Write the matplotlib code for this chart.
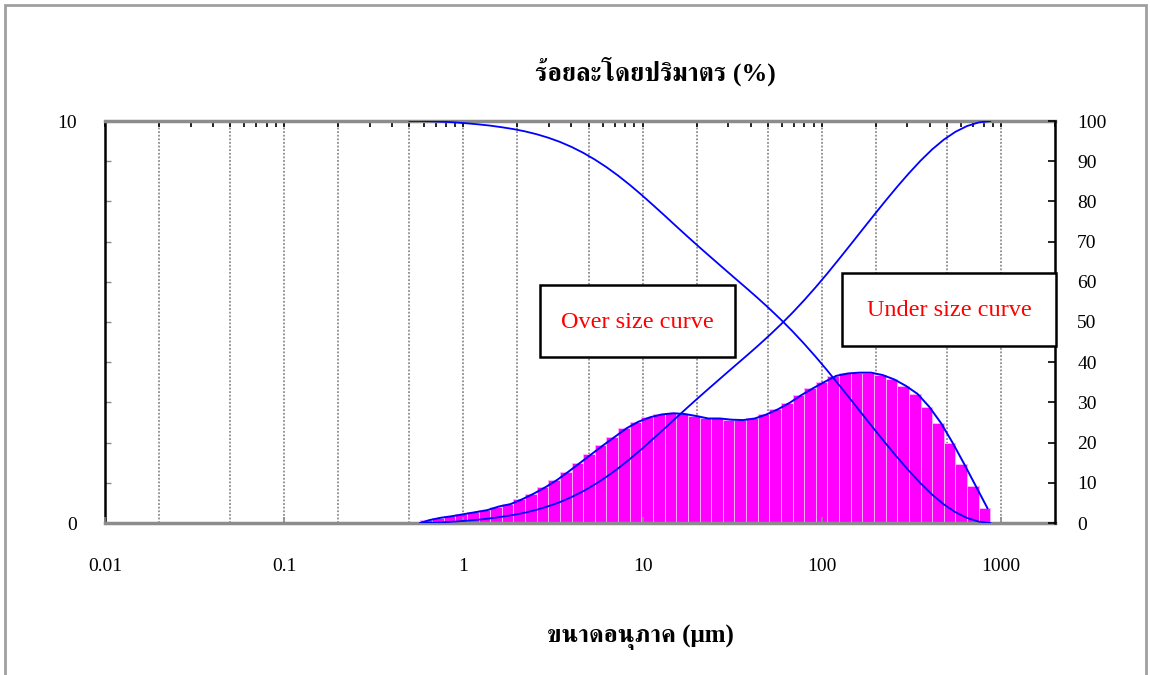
import matplotlib
matplotlib.use("Agg")
import matplotlib.pyplot as plt
from matplotlib import font_manager
from matplotlib.ft2font import FT2Font
from matplotlib.ticker import MultipleLocator, LogLocator, FixedLocator, NullFormatter
from matplotlib.patches import Rectangle

# channel edges (um)
edges = [0.575, 0.668, 0.775, 0.900, 1.045, 1.214, 1.410, 1.637, 1.901, 2.207,
         2.563, 2.976, 3.456, 4.013, 4.660, 5.411, 6.283, 7.296, 8.472, 9.838,
         11.42, 13.27, 15.40, 17.89, 20.77, 24.12, 28.01, 32.52, 37.76, 43.85,
         50.92, 59.13, 68.66, 79.73, 92.58, 107.5, 124.8, 145.0, 168.3, 195.5,
         227.0, 263.6, 306.0, 355.4, 412.7, 479.2, 556.4, 646.1, 750.3, 871.3]

# volume % per channel (left axis)
q = [0.07, 0.13, 0.17, 0.22, 0.27, 0.32, 0.41, 0.47, 0.59, 0.73,
     0.89, 1.07, 1.28, 1.50, 1.72, 1.94, 2.15, 2.36, 2.52, 2.63,
     2.70, 2.73, 2.71, 2.66, 2.60, 2.60, 2.57, 2.56, 2.60, 2.70,
     2.83, 2.99, 3.18, 3.35, 3.51, 3.66, 3.72, 3.74, 3.74, 3.68,
     3.57, 3.41, 3.21, 2.89, 2.49, 2.00, 1.47, 0.92, 0.37]

# cumulative curves (right axis), at channel edges
under = [0.0, 0.07, 0.19, 0.36, 0.58, 0.84, 1.15, 1.55, 2.01, 2.58,
         3.29, 4.16, 5.20, 6.45, 7.91, 9.59, 11.48, 13.58, 15.88, 18.33,
         20.90, 23.53, 26.19, 28.83, 31.42, 33.96, 36.49, 39.00, 41.49, 44.03,
         46.66, 49.42, 52.33, 55.43, 58.70, 62.12, 65.68, 69.31, 72.96, 76.60,
         80.19, 83.67, 86.99, 90.12, 92.94, 95.36, 97.31, 98.75, 99.64, 100.0]
over = [100.0, 99.93, 99.81, 99.64, 99.42, 99.16, 98.85, 98.45, 97.99, 97.42,
        96.71, 95.84, 94.80, 93.55, 92.09, 90.41, 88.52, 86.42, 84.12, 81.67,
        79.10, 76.47, 73.81, 71.17, 68.58, 66.04, 63.51, 61.00, 58.51, 55.97,
        53.34, 50.58, 47.67, 44.57, 41.30, 37.88, 34.32, 30.69, 27.04, 23.40,
        19.81, 16.33, 13.01, 9.88, 7.06, 4.64, 2.69, 1.25, 0.36, 0.0]

grid_x = [0.02, 0.05, 0.1, 0.2, 0.5, 1, 2, 5, 10, 20, 50, 100, 200, 500, 1000]
xticks = [0.01, 0.1, 1, 10, 100, 1000]
xticklabels = ["0.01", "0.1", "1", "10", "100", "1000"]

# Thai glyphs: prefer FreeSerif, else anything that has them
names = {f.name for f in font_manager.fontManager.ttflist}
if "FreeSerif" in names:
    thai_font = "FreeSerif"
else:
    thai_font = "DejaVu Sans"
    for f in font_manager.fontManager.ttflist:
        try:
            if 0x0E23 in FT2Font(f.fname).get_charmap():
                thai_font = f.name
                break
        except Exception:
            pass
plt.rcParams["font.family"] = ["Liberation Serif", thai_font, "DejaVu Sans"]

fig = plt.figure(figsize=(11.5, 6.75), dpi=100)
ax = fig.add_axes([105 / 1150, 1 - 523 / 675, 950 / 1150, 402 / 675])
ax2 = ax.twinx()

ax.set_xscale("log")
ax.set_xlim(0.01, 2000)
ax.set_ylim(0, 10)
ax2.set_ylim(0, 100)

for gx in grid_x:
    ax.axvline(gx, color="#8c8c8c", lw=1.3, ls=(0, (1, 1)), zorder=0)

widths = [edges[i + 1] - edges[i] for i in range(len(q))]
ax.bar(edges[:-1], q, width=widths, align="edge", color="#ff00ff",
       edgecolor="#ffb0ff", linewidth=0.7, zorder=2)

# frequency curve, a bit right of the channel centres
cx = [edges[0]] + [(edges[i] * edges[i + 1] ** 3) ** 0.25 for i in range(len(q))]
ax.plot(cx, [0.0] + q, color="#0000ff", lw=1.4, zorder=3)

ax2.plot(edges, under, color="#0000ff", lw=1.3, zorder=3)
ax2.plot([0.5] + edges, [100.0] + over, color="#0000ff", lw=1.3, zorder=3)

# spines
ax.spines["top"].set_color("#8c8c8c")
ax.spines["top"].set_linewidth(2.5)
ax.spines["bottom"].set_color("#8c8c8c")
ax.spines["bottom"].set_linewidth(2.5)
ax.spines["left"].set_color("black")
ax.spines["left"].set_linewidth(1.8)
ax2.spines["right"].set_color("black")
ax2.spines["right"].set_linewidth(1.8)
for s in ["top", "bottom", "left"]:
    ax2.spines[s].set_visible(False)

# x ticks: minor black on top, decades gray on bottom
ax.xaxis.set_major_locator(FixedLocator(xticks))
ax.xaxis.set_minor_locator(LogLocator(base=10, subs=range(2, 10), numticks=20))
ax.xaxis.set_minor_formatter(NullFormatter())
ax.set_xticklabels(xticklabels)
ax.tick_params(axis="x", which="both", bottom=False, top=True, direction="in",
               color="black", length=4, width=1.2, labelbottom=True, labeltop=False,
               pad=25, labelsize=14)
ax2.xaxis.set_visible(True)
ax2.tick_params(axis="x", which="major", bottom=True, top=False, direction="in",
                color="#8c8c8c", length=4, width=1.2, labelbottom=False)
ax2.tick_params(axis="x", which="minor", bottom=False, top=False)

ax.set_yticks([0, 10])
ax.set_yticklabels(["0", "10"])
ax.yaxis.set_minor_locator(MultipleLocator(1))
ax.tick_params(axis="y", which="major", left=False, direction="in", pad=20, labelsize=14)
ax.tick_params(axis="y", which="minor", direction="in", color="#8c8c8c", length=4, width=1)

ax2.set_yticks(range(0, 101, 10))
ax2.tick_params(axis="y", which="major", direction="in", color="black", length=5,
                width=1.2, pad=16, labelsize=14)

# labelled boxes
fig.patches.append(Rectangle((540 / 1150, 1 - 357 / 675), 195 / 1150, 72 / 675,
                             transform=fig.transFigure, facecolor="white",
                             edgecolor="black", lw=1.8, zorder=5))
fig.patches.append(Rectangle((842 / 1150, 1 - 346 / 675), 214 / 1150, 73 / 675,
                             transform=fig.transFigure, facecolor="white",
                             edgecolor="black", lw=1.8, zorder=5))
fig.text(637 / 1150, 1 - 322 / 675, "Over size curve", color="red", fontsize=17.5,
         ha="center", va="center", zorder=6)
fig.text(949 / 1150, 1 - 311 / 675, "Under size curve", color="red", fontsize=17.5,
         ha="center", va="center", zorder=6)

fig.text(655 / 1150, 1 - 71 / 675, "ร้อยละโดยปริมาตร (%)", fontsize=18.5,
         fontweight="bold", ha="center", va="center")
fig.text(640 / 1150, 1 - 637 / 675, "ขนาดอนุภาค (μm)", fontsize=18,
         fontweight="bold", ha="center", va="center")

# outer frame
fig.patches.append(Rectangle((5 / 1150, -0.05), 1141 / 1150, 1.05 - 5 / 675,
                             transform=fig.transFigure, fill=False,
                             edgecolor="#a0a0a0", lw=2, zorder=0))

fig.savefig("out.png", dpi=100)
